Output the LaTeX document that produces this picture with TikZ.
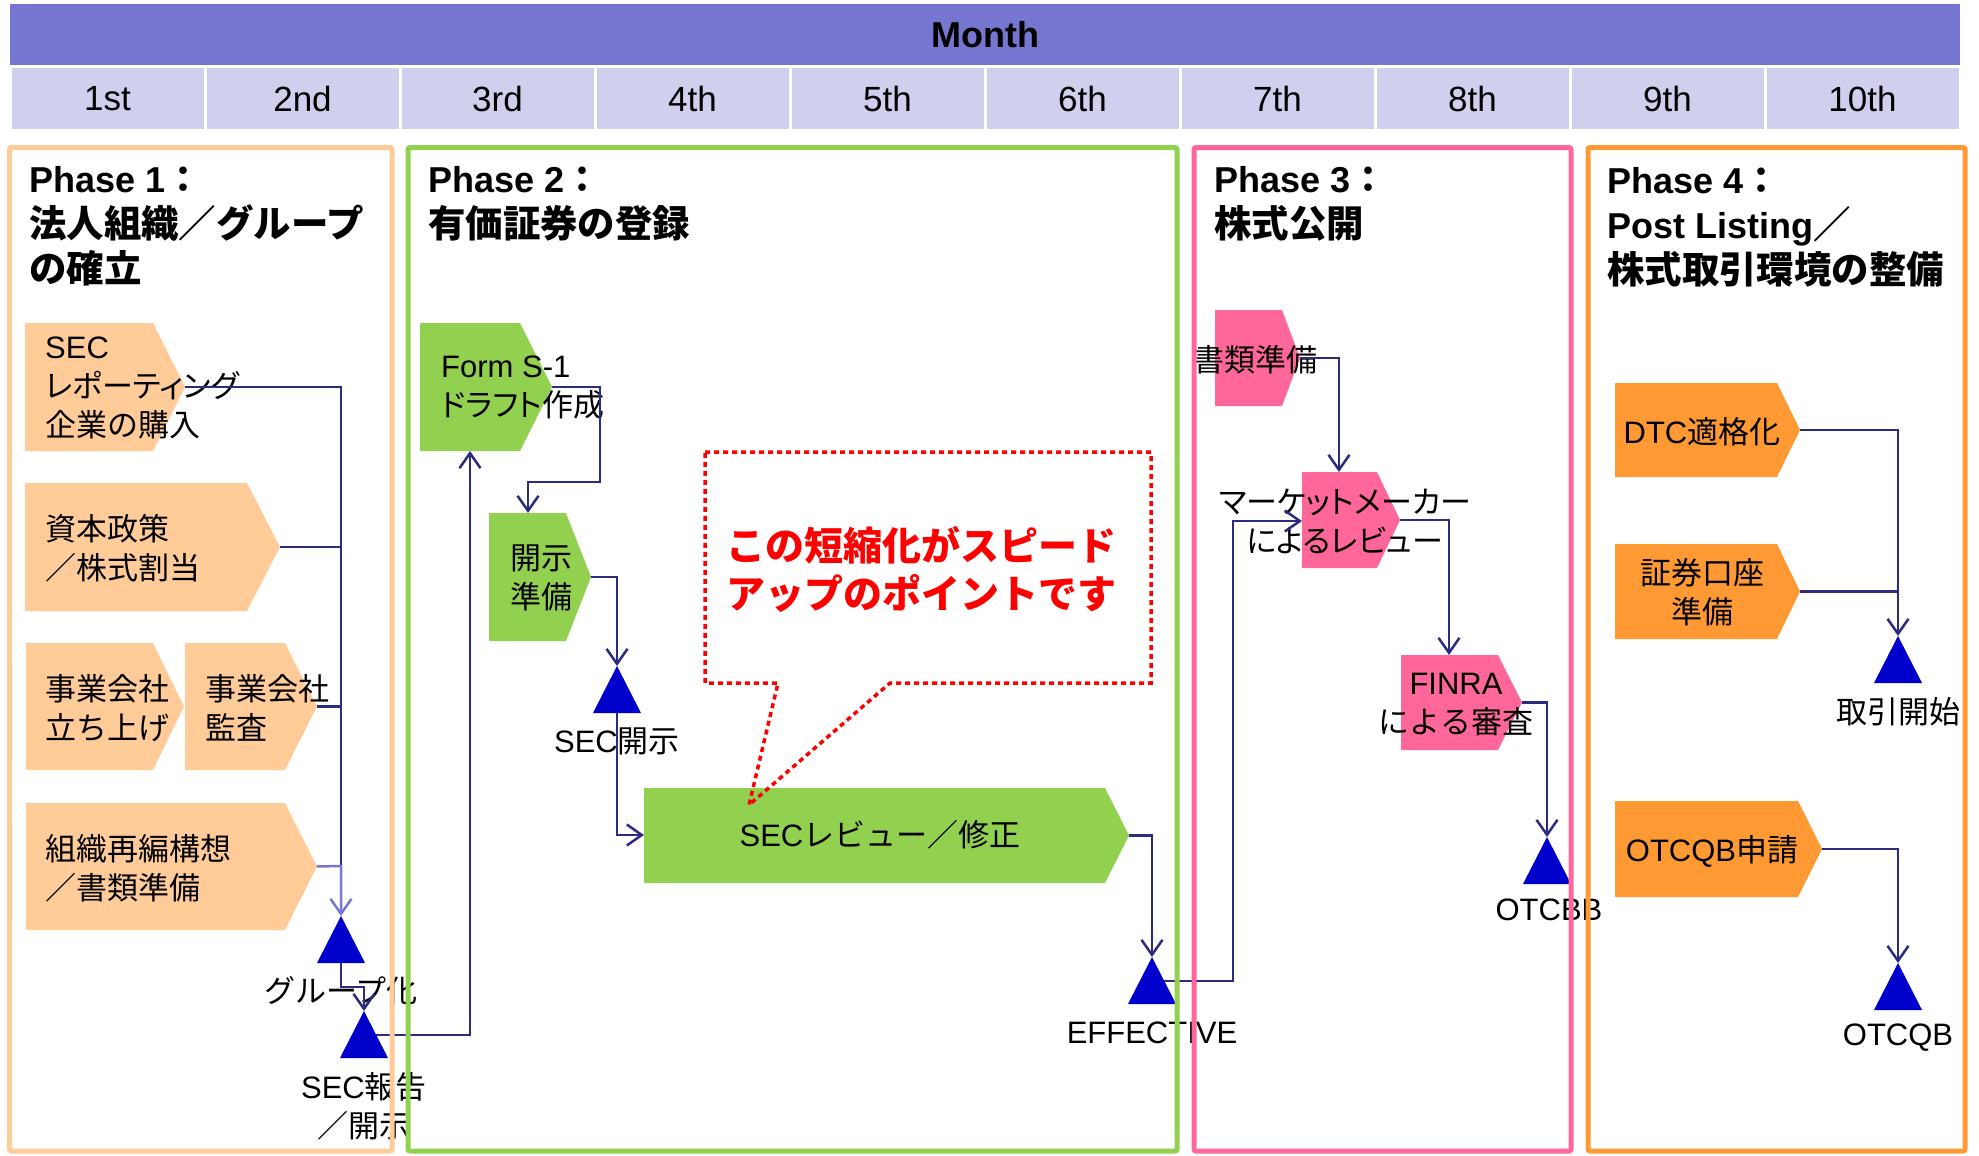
\documentclass[tikz,border=0pt]{standalone}
\usepackage{fontspec}
\setmainfont{Liberation Sans}
\newfontfamily\jp{Noto Sans CJK JP}
\newfontfamily\jpp[RawFeature=+palt]{Noto Sans CJK JP}
\newfontfamily\jpt[Scale=1.04]{Noto Sans CJK JP}
\newcommand\J[1]{{\jp #1}}
\newcommand\JP[1]{{\jpp #1}}
\newcommand\JT[1]{{\jpt #1}}
\usetikzlibrary{arrows.meta}
\definecolor{monthbar}{HTML}{7676D1}
\definecolor{monthcell}{HTML}{D0D0EE}
\definecolor{pone}{HTML}{FFCC99}
\definecolor{ptwo}{HTML}{92D050}
\definecolor{pthree}{HTML}{FF6699}
\definecolor{pfour}{HTML}{FF9933}
\definecolor{navy}{HTML}{2B2B80}
\definecolor{lightnavy}{HTML}{7777CC}
\definecolor{triblue}{HTML}{0000CC}
% chevron: name, colour, x1, y1, xflat, xtip, y2
\newcommand\chev[7]{%
  \fill[#2] (#3,#4) -- (#5,#4) -- (#6,{(#4+#7)/2}) -- (#5,#7) -- (#3,#7) -- cycle;
  \coordinate (#1-tip) at (#6,{(#4+#7)/2});}
% milestone coordinates: name, apex x, apex y
\newcommand\milestone[3]{%
  \coordinate (#1) at (#2,#3);
  \coordinate (#1-c) at (#2,{#3+24});
  \coordinate (#1-b) at (#2,{#3+47});}
\newcommand\drawtri[1]{\fill[triblue] (#1) -- ++(24,47) -- ++(-48,0) -- cycle;}
\tikzset{
  body/.style={font=\fontsize{31}{39}\selectfont, inner sep=0pt, align=left, anchor=west},
  ctext/.style={font=\fontsize{31}{39}\selectfont, inner sep=0pt, align=center},
  mytitle/.style={font=\fontsize{36}{45}\selectfont\bfseries, inner sep=0pt, align=left, anchor=west},
  monthlbl/.style={fill=monthcell, minimum width=192pt, minimum height=61pt, inner sep=0pt,
    font=\fontsize{35}{40}\selectfont},
  conn/.style={draw=navy, line width=2.5pt},
  arr/.style={-{Straight Barb[length=15pt,width=21pt]}},
  phaseframe/.style={line width=5pt, rounded corners=2pt},
  callout/.style={draw=red, line width=3.5pt, dash pattern=on 5pt off 4pt},
  callouttext/.style={font=\fontsize{39}{48}\selectfont\bfseries, text=red, inner sep=0pt, align=left, anchor=west},
}
\begin{document}
\begin{tikzpicture}[x=1pt,y=-1pt]
\useasboundingbox (0,0) rectangle (1979,1156);
% header
\node[fill=monthbar, minimum width=1950pt, minimum height=61pt, inner sep=0pt,
  font=\fontsize{36}{40}\selectfont\bfseries] (month) at (985,34.5) {Month};
\foreach \i/\t in {0/1st,1/2nd,2/3rd,3/4th,4/5th,5/6th,6/7th,7/8th,8/9th,9/10th}{
  \node[monthlbl] (m\i) at ({107.5+195*\i},98.5) {\t};
}
% shapes
\chev{A}{pone}{25}{323}{153}{185}{451}
\chev{B}{pone}{25}{483}{247}{280}{611}
\chev{C}{pone}{26}{643}{153}{184}{770}
\chev{D}{pone}{185}{643}{285}{317}{770}
\chev{E}{pone}{26}{803}{285}{317}{930}
\chev{S}{ptwo}{420}{323}{520}{552}{451}
\chev{K}{ptwo}{489}{513}{566}{591}{641}
\chev{R}{ptwo}{644}{788}{1105}{1129}{883}
\chev{Q}{pthree}{1215}{310}{1282}{1300}{406}
\chev{M}{pthree}{1302}{472}{1377}{1400}{568}
\chev{F}{pthree}{1401}{655}{1498}{1522}{750}
\chev{T}{pfour}{1615}{383}{1777}{1800}{477}
\chev{U}{pfour}{1615}{544}{1777}{1800}{639}
\chev{O}{pfour}{1615}{801}{1798}{1822}{897}
\milestone{g1}{341}{916}
\milestone{g2}{364}{1011}
\milestone{sk}{617}{666}
\milestone{eff}{1152}{957}
\milestone{bb}{1547}{837}
\milestone{ts}{1898}{636}
\milestone{qb}{1898}{963}
% titles
\node[mytitle] (p1) at (29,226) {Phase 1\J{：}\\\JT{法人組織／グループ}\\\JT{の確立}};
\node[mytitle] (p2) at (428,204) {Phase 2\J{：}\\\JT{有価証券の登録}};
\node[mytitle] (p3) at (1214,204) {Phase 3\J{：}\\\JT{株式公開}};
\node[mytitle] (p4) at (1607,227) {Phase 4\J{：}\\Post Listing\JT{／}\\\JT{株式取引環境の整備}};
% texts
\node[body] (tA) at (45,388) {SEC\\\JP{レポーティング}\\\J{企業の購入}};
\node[body] (tB) at (45,548) {\J{資本政策}\\\J{／株式割当}};
\node[body] (tC) at (45,708) {\J{事業会社}\\\J{立ち上げ}};
\node[body] (tD) at (205,708) {\J{事業会社}\\\J{監査}};
\node[body] (tE) at (45,868) {\J{組織再編構想}\\\J{／書類準備}};
\node[ctext] (lg1) at (341,991) {\J{グループ化}};
\node[ctext] (lg2) at (364,1106) {SEC\J{報告}\\\J{／開示}};
\node[body] (tS) at (441,388) {Form S-1\\\JP{ドラフト作成}};
\node[body] (tK) at (510,578) {\J{開示}\\\J{準備}};
\node[ctext] (lsk) at (617,741) {SEC\J{開示}};
\node[ctext] (tR) at (880,835) {SEC\J{レビュー／修正}};
\node[ctext] (leff) at (1152,1033) {EFFECTIVE};
\node[ctext] (tQ) at (1255,360) {\J{書類準備}};
\node[ctext] (tM) at (1345,521) {\JP{マーケットメーカー}\\\JP{によるレビュー}};
\node[ctext] (tF) at (1456,705) {FINRA\\\J{による審査}};
\node[ctext] (lbb) at (1549,910) {OTCBB};
\node[ctext] (tT) at (1702,432) {DTC\J{適格化}};
\node[ctext] (tU) at (1702,592) {\J{証券口座}\\\J{準備}};
\node[ctext] (lts) at (1898,712) {\J{取引開始}};
\node[ctext] (tO) at (1712,851) {OTCQB\J{申請}};
\node[ctext] (lqb) at (1898,1038) {OTCQB};
% callout
\draw[callout] (705,452) -- (1151,452) -- (1151,683) -- (890,683) -- (749,805) -- (778,683) -- (705,683) -- cycle;
\node[callouttext] (ct) at (726,569) {\J{この短縮化がスピード}\\\J{アップのポイントです}};
% connectors
\coordinate (j1) at (341,866);
\draw[conn] (A-tip) -| (j1);
\draw[conn] (B-tip) -- (B-tip -| j1);
\draw[conn] (D-tip) -- (D-tip -| j1);
\draw[conn, draw=lightnavy, arr] (E-tip) -- (j1) -- (g1);
\draw[conn, arr] (g1-b) -- ++(0,24) -| (g2);
\coordinate (S-bot) at (470,451);
\draw[conn, arr] (g2-c) -| (S-bot);
\coordinate (K-top) at (528,513);
\draw[conn, arr] (S-tip) -- ++(48,0) -- ++(0,95) -| (K-top);
\draw[conn, arr] (K-tip) -| (sk);
\coordinate (R-w) at (644,835);
\draw[conn, arr] (sk-c) |- (R-w);
\draw[conn, arr] (R-tip) -| (eff);
\coordinate (M-w) at (1302,521);
\draw[conn, arr] (eff-c) -- ++(81,0) |- (M-w);
\coordinate (M-top) at (1339,472);
\draw[conn, arr] (Q-tip) -| (M-top);
\coordinate (F-top) at (1449,655);
\draw[conn, arr] (M-tip) -| (F-top);
\draw[conn, arr] (F-tip) -| (bb);
\draw[conn, arr] (T-tip) -| (ts);
\draw[conn] (U-tip) -- (U-tip -| ts);
\draw[conn, arr] (O-tip) -| (qb);
% milestones
\foreach \n in {g1,g2,sk,eff,bb,ts,qb}{\drawtri{\n}}
% phase frames
\draw[phaseframe, pone] (9.5,147.5) rectangle (392,1151);
\draw[phaseframe, ptwo] (408,147.5) rectangle (1177,1151);
\draw[phaseframe, pthree] (1194,147.5) rectangle (1571,1151);
\draw[phaseframe, pfour] (1588,147.5) rectangle (1965,1151);
\end{tikzpicture}
\end{document}
